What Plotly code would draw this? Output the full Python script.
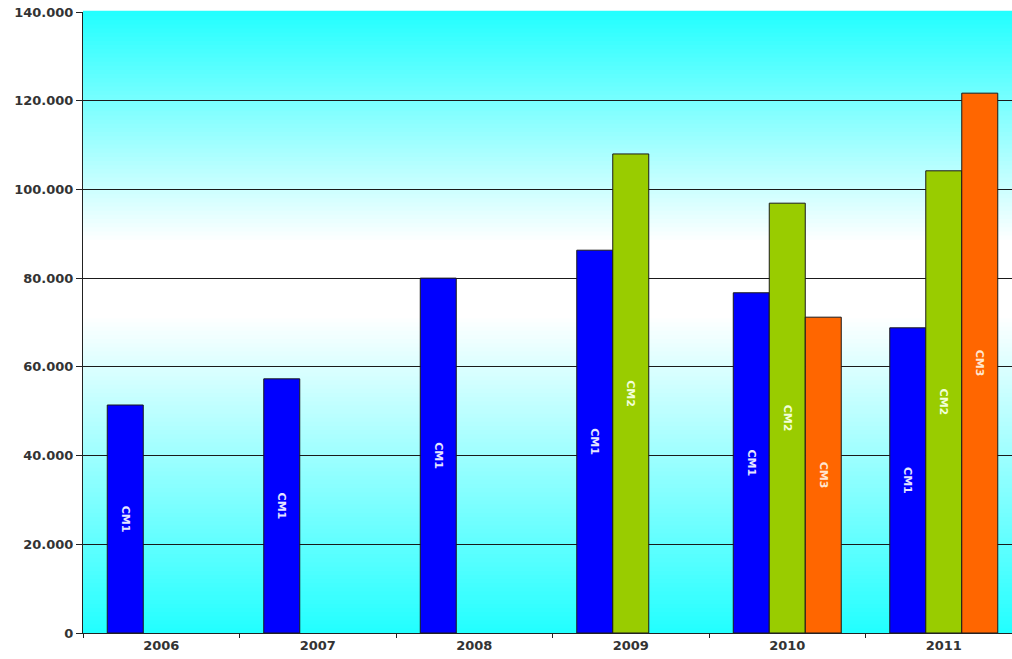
import plotly.graph_objects as go

years = ["2006", "2007", "2008", "2009", "2010", "2011"]
cm1 = [51400, 57300, 80000, 86300, 76700, 68800]
cm2 = [None, None, None, 108000, 96900, 104200]
cm3 = [None, None, None, None, 71200, 121700]
series_names = ["CM1", "CM2", "CM3"]
bar_colors = ["#0000FF", "#99CC00", "#FF6600"]
label_colors = ["#E6E6FF", "#F2FFD9", "#FFE6D0"]
y_ticks = [0, 20000, 40000, 60000, 80000, 100000, 120000, 140000]
y_ticktext = ["0", "20.000", "40.000", "60.000", "80.000", "100.000", "120.000", "140.000"]

fig = go.Figure()
for name, vals, col, lcol in zip(series_names, [cm1, cm2, cm3], bar_colors, label_colors):
    fig.add_trace(go.Bar(
        x=years, y=vals, name=name,
        marker=dict(color=col, line=dict(color="#1a1a1a", width=1)),
        text=[name if v is not None else "" for v in vals],
        textposition="inside", insidetextanchor="middle", textangle=90,
        textfont=dict(family="DejaVu Sans", size=11, color=lcol, weight="bold"),
        cliponaxis=False,
    ))

# gradient background (cyan -> white -> cyan)
cyan = (34, 255, 255)
white = (255, 255, 255)
def col_at(f):
    lo, hi = 0.51, 0.63
    if f < lo:
        t = f / lo
    elif f > hi:
        t = (1 - f) / (1 - hi)
    else:
        t = 1.0
    c = [round(cyan[i] + (white[i] - cyan[i]) * t) for i in range(3)]
    return "rgb(%d,%d,%d)" % tuple(c)

N = 150
shapes = []
for i in range(N):
    f0 = i / N
    f1 = (i + 1) / N
    shapes.append(dict(type="rect", xref="x domain", yref="y domain",
                       x0=0, x1=1, y0=f0, y1=f1 + 0.002,
                       fillcolor=col_at((f0 + f1) / 2), line=dict(width=0),
                       layer="below"))

fig.update_layout(
    width=1012, height=659,
    margin=dict(l=83, r=0, t=12, b=26),
    paper_bgcolor="white", plot_bgcolor="white",
    barmode="group", bargap=0.31, bargroupgap=0,
    showlegend=False,
    shapes=shapes,
    font=dict(family="DejaVu Sans", size=13, color="#333333"),
)
fig.update_xaxes(
    type="category", range=[-0.5, 5.436],
    showline=True, linecolor="#222222", linewidth=1,
    ticks="outside", tickson="boundaries", ticklen=4, tickcolor="#222222",
    showgrid=False,
    tickfont=dict(family="DejaVu Sans", size=13, color="#333333", weight="bold"),
)
fig.update_yaxes(
    range=[0, 140000],
    tickvals=y_ticks, ticktext=y_ticktext,
    showline=True, linecolor="#222222", linewidth=1,
    ticks="outside", ticklen=6, tickcolor="#222222",
    showgrid=True, gridcolor="#1a1a1a", gridwidth=1,
    zeroline=False,
    tickfont=dict(family="DejaVu Sans", size=13, color="#333333", weight="bold"),
)

fig.write_html("out.html")
